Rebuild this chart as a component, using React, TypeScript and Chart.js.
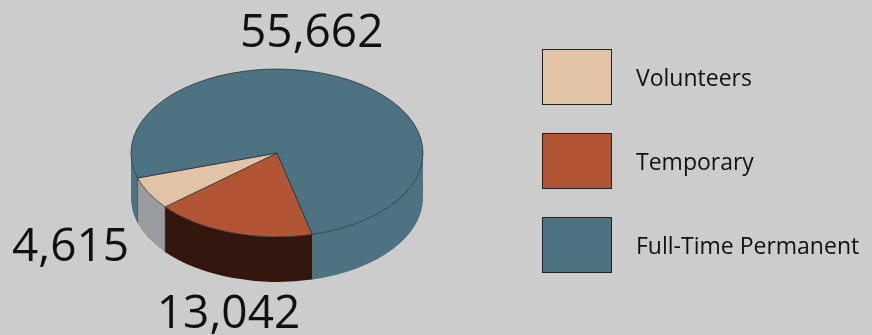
import React, { useEffect, useRef } from 'react';
import { Chart, registerables } from 'chart.js';

Chart.register(...registerables);

// ---- data (legend order) ----
const categories = ['Volunteers', 'Temporary', 'Full-Time Permanent'];
const values = [4615, 13042, 55662];
const valueLabels = ['4,615', '13,042', '55,662'];
const topColors = ['#e2c3a6', '#b25535', '#4d7282'];
const sideColors = ['#9a9b9f', '#33170f', '#4d7282'];
// clockwise drawing order of slices around the pie
const sliceOrder = [1, 0, 2];

// ---- 3D look ----
const TILT = 0.575;
const DEPTH = 45;
// value label anchors relative to pie centre, in radii (legend order)
const labelAnchors: [number, number][] = [
  [-1.414, 0.74],
  [-0.332, 1.199],
  [0.238, -0.726],
];

const orderedSide = sliceOrder.map((i) => sideColors[i]);

const pie3d = {
  id: 'pie3d',
  beforeDatasetsDraw(chart: any) {
    const meta = chart.getDatasetMeta(0);
    const ctx = chart.ctx as CanvasRenderingContext2D;
    const arcs = meta.data;
    if (!arcs.length) return;
    const { x: cx, y: cy } = arcs[0].getProps(['x', 'y'], true);
    ctx.save();
    arcs.forEach((arc: any, i: number) => {
      const { startAngle, endAngle, outerRadius } = arc.getProps(
        ['startAngle', 'endAngle', 'outerRadius'],
        true
      );
      const R = outerRadius;
      const ry = R * TILT;
      for (let n = -1; n <= 2; n++) {
        const lo = Math.max(startAngle, 2 * Math.PI * n);
        const hi = Math.min(endAngle, 2 * Math.PI * n + Math.PI);
        if (hi <= lo) continue;
        ctx.beginPath();
        ctx.ellipse(cx, cy, R, ry, 0, lo, hi, false);
        ctx.lineTo(cx + R * Math.cos(hi), cy + ry * Math.sin(hi) + DEPTH);
        ctx.ellipse(cx, cy + DEPTH, R, ry, 0, hi, lo, true);
        ctx.closePath();
        ctx.fillStyle = orderedSide[i];
        ctx.fill();
      }
      // vertical edge at slice start if on the front
      const s = ((startAngle % (2 * Math.PI)) + 2 * Math.PI) % (2 * Math.PI);
      if (s > 0 && s < Math.PI) {
        const ex = cx + R * Math.cos(s);
        const ey = cy + ry * Math.sin(s);
        ctx.beginPath();
        ctx.moveTo(ex, ey);
        ctx.lineTo(ex, ey + DEPTH);
        ctx.strokeStyle = 'rgba(20,20,20,0.6)';
        ctx.lineWidth = 0.7;
        ctx.stroke();
      }
    });
    ctx.restore();
    ctx.save();
    ctx.translate(cx, cy);
    ctx.scale(1, TILT);
    ctx.translate(-cx, -cy);
  },
  afterDatasetsDraw(chart: any) {
    chart.ctx.restore();
  },
  afterDraw(chart: any) {
    const meta = chart.getDatasetMeta(0);
    const arcs = meta.data;
    if (!arcs.length) return;
    const { x: cx, y: cy, outerRadius: R } = arcs[0].getProps(['x', 'y', 'outerRadius'], true);
    const ctx = chart.ctx as CanvasRenderingContext2D;
    ctx.save();
    ctx.font = "46px 'Open Sans'";
    ctx.fillStyle = '#111';
    ctx.textAlign = 'center';
    ctx.textBaseline = 'alphabetic';
    valueLabels.forEach((t, i) => {
      const [ax, ay] = labelAnchors[i];
      ctx.fillText(t, cx + ax * R, cy + ay * R);
    });
    ctx.restore();
  },
};

export default function App() {
  const ref = useRef<HTMLCanvasElement>(null);
  useEffect(() => {
    if (!ref.current) return;
    const chart = new Chart(ref.current, {
      type: 'pie',
      data: {
        labels: sliceOrder.map((i) => categories[i]),
        datasets: [
          {
            data: sliceOrder.map((i) => values[i]),
            backgroundColor: sliceOrder.map((i) => topColors[i]),
            borderColor: '#1f2a30',
            borderWidth: 0.9,
            radius: 146,
            clip: false,
          } as any,
        ],
      },
      options: {
        responsive: false,
        animation: false,
        events: [],
        rotation: 166,
        layout: { padding: { left: 0, right: 318, top: 0, bottom: 29 } },
        plugins: {
          legend: { display: false },
          tooltip: { enabled: false },
        },
      },
      plugins: [pie3d],
    });
    return () => chart.destroy();
  }, []);

  return (
    <div
      style={{
        position: 'absolute',
        left: 0,
        top: 0,
        width: 872,
        height: 335,
        background: '#cccccc',
        overflow: 'hidden',
      }}
    >
      <canvas ref={ref} width={872} height={335} style={{ width: 872, height: 335, display: 'block' }} />
      {categories.map((c, i) => (
        <React.Fragment key={c}>
          <div
            style={{
              position: 'absolute',
              left: 542,
              top: 49 + i * 84,
              width: 70,
              height: 56,
              boxSizing: 'border-box',
              border: '1px solid #222',
              background: topColors[i],
            }}
          />
          <div
            style={{
              position: 'absolute',
              left: 636,
              top: 49 + i * 84,
              height: 56,
              lineHeight: '56px',
              fontFamily: "'Open Sans', sans-serif",
              fontSize: 23,
              color: '#111',
              whiteSpace: 'nowrap',
            }}
          >
            {c}
          </div>
        </React.Fragment>
      ))}
    </div>
  );
}
